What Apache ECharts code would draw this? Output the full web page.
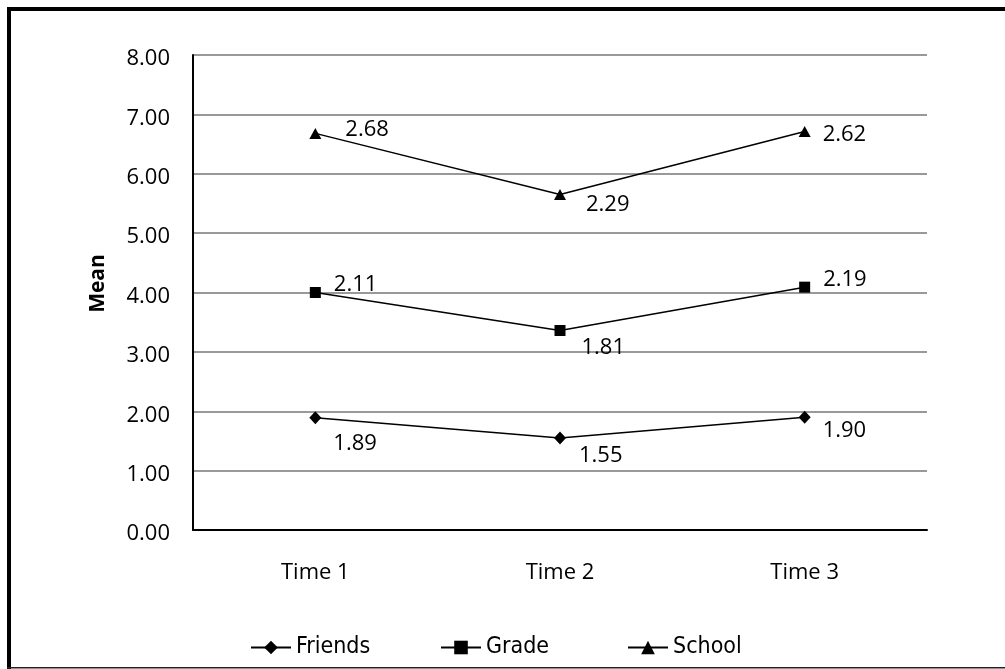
<!DOCTYPE html>
<html>
<head>
<meta charset="utf-8">
<script src="https://cdn.jsdelivr.net/npm/echarts@6/dist/echarts.min.js"></script>
<style>
html,body{margin:0;padding:0;background:#fff;}
#c{width:1005px;height:669px;}
</style>
</head>
<body>
<div id="c"></div>
<script>
// ---- data ----
var categories = ['Time 1', 'Time 2', 'Time 3'];
var seriesNames = ['Friends', 'Grade', 'School'];
var friends = [1.89, 1.55, 1.90];
var grade = [2.11, 1.81, 2.19];
var school = [2.68, 2.29, 2.62];
var yTicks = {min: 0, max: 8, interval: 1};

// ---- style (label placement relative to each marker) ----
var FONT = '"Open Sans", sans-serif';
var LEGEND_FONT = '"Liberation Sans Narrow", "DejaVu Sans Condensed", "Open Sans", sans-serif';
var labelOffsets = {
  Friends: [[7, 26], [8, 18], [7, 14]],
  Grade:   [[8, -8], [11, 17], [8, -7]],
  School:  [[19, -4], [15, 10], [7, 3]]
};
var symbols = {Friends: 'diamond', Grade: 'rect', School: 'triangle'};
var symbolSizes = {Friends: [12, 13], Grade: [11, 11], School: [12, 11]};
var legendLefts = {Friends: 250, Grade: 440, School: 627};

function makeSeries(name, values) {
  return {
    name: name,
    type: 'line',
    stack: 'total',
    symbol: symbols[name],
    symbolSize: symbolSizes[name],
    showAllSymbol: true,
    lineStyle: {color: '#000', width: 1.5},
    itemStyle: {color: '#000'},
    emphasis: {disabled: true},
    data: values.map(function (v, i) {
      return {
        value: v,
        label: {offset: labelOffsets[name][i]}
      };
    }),
    label: {
      show: true,
      position: 'right',
      distance: 5,
      color: '#000',
      fontFamily: FONT,
      fontSize: 22,
      formatter: function (p) { return Number(p.value).toFixed(2); }
    }
  };
}

function makeLegend(name) {
  return {
    data: [name],
    left: legendLefts[name],
    top: 636,
    padding: 0,
    itemWidth: 40,
    itemHeight: 17,
    textStyle: {color: '#000', fontFamily: LEGEND_FONT, fontSize: 23},
    selectedMode: false
  };
}

var chart = echarts.init(document.getElementById('c'), null, {renderer: 'canvas'});
chart.setOption({
  backgroundColor: '#fff',
  animation: false,
  grid: {left: 193, right: 78, top: 55, bottom: 139, containLabel: false},
  xAxis: {
    type: 'category',
    data: categories,
    boundaryGap: true,
    axisLine: {lineStyle: {color: '#000', width: 2}},
    axisTick: {show: false},
    axisLabel: {color: '#000', fontFamily: FONT, fontSize: 22, margin: 32},
    splitLine: {show: false}
  },
  yAxis: {
    type: 'value',
    min: yTicks.min,
    max: yTicks.max,
    interval: yTicks.interval,
    name: 'Mean',
    nameLocation: 'middle',
    nameGap: 84,
    nameTextStyle: {color: '#000', fontFamily: FONT, fontSize: 21, fontWeight: 'bold', padding: [0, 0, 0, 18]},
    axisLine: {show: true, lineStyle: {color: '#000', width: 2}},
    axisTick: {show: false},
    axisLabel: {
      color: '#000', fontFamily: FONT, fontSize: 22, margin: 23,
      formatter: function (v) { return '{v|' + v.toFixed(2) + '}'; },
      rich: {v: {color: '#000', fontFamily: FONT, fontSize: 22, padding: [8, 0, 0, 0]}}
    },
    splitLine: {lineStyle: {color: '#999', width: 2}}
  },
  legend: seriesNames.map(makeLegend),
  graphic: [
    {type: 'rect', shape: {x: 7, y: 7, width: 998, height: 4}, style: {fill: '#000'}, silent: true},
    {type: 'rect', shape: {x: 7, y: 7, width: 4, height: 662}, style: {fill: '#000'}, silent: true},
    {type: 'rect', shape: {x: 7, y: 667, width: 998, height: 1.5}, style: {fill: '#222'}, silent: true}
  ],
  series: [
    makeSeries('Friends', friends),
    makeSeries('Grade', grade),
    makeSeries('School', school)
  ]
});
</script>
</body>
</html>
